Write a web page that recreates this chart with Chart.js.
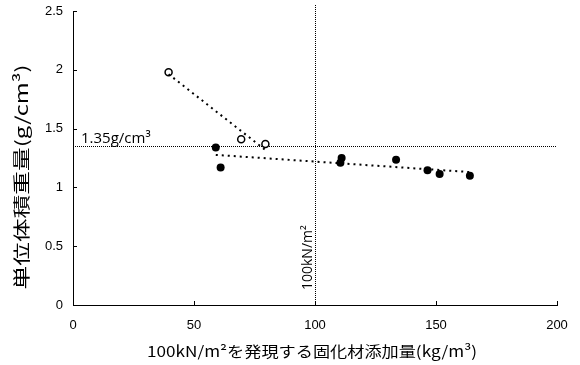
<!DOCTYPE html>
<html>
<head>
<meta charset="utf-8">
<script src="https://cdn.jsdelivr.net/npm/chart.js@4"></script>
<style>
  html, body { margin: 0; padding: 0; background: #fff; }
  #wrap { width: 580px; height: 365px; }
</style>
</head>
<body>
<div id="wrap"><canvas id="c"></canvas></div>
<script>
// filled markers
const filledX = [59, 61, 110.5, 111, 133.5, 146.5, 151.5, 164];
const filledY = [1.34, 1.17, 1.21, 1.25, 1.235, 1.145, 1.115, 1.10];
// open markers
const hollowX = [39.5, 69.5, 79.5];
const hollowY = [1.98, 1.41, 1.37];

const xTickValues = [0, 50, 100, 150, 200];
const yTickValues = [0, 0.5, 1, 1.5, 2, 2.5];

const refY = 1.35;
const refX = 100;
const refYLabel = "1.35g/cm³";
const refXLabel = "100kN/m²";
const xTitle = "100kN/m²を発現する固化材添加量(kg/m³)";
const yTitle = "単位体積重量(g/cm³)";

function pts(xs, ys) {
  return xs.map((x, i) => ({ x, y: ys[i] }));
}

// least-squares trend line over the range of the data
function trend(xs, ys) {
  const n = xs.length;
  const mx = xs.reduce((a, b) => a + b, 0) / n;
  const my = ys.reduce((a, b) => a + b, 0) / n;
  let sxy = 0, sxx = 0;
  xs.forEach((x, i) => { sxy += (x - mx) * (ys[i] - my); sxx += (x - mx) * (x - mx); });
  const k = sxy / sxx;
  const lo = Math.min(...xs), hi = Math.max(...xs);
  return [{ x: lo, y: my + k * (lo - mx) }, { x: hi, y: my + k * (hi - mx) }];
}

function stretchedText(ctx, text, font, cx, cy, width, rot) {
  ctx.save();
  ctx.font = font;
  const w = ctx.measureText(text).width;
  ctx.translate(cx, cy);
  if (rot) ctx.rotate(rot);
  ctx.scale(width / w, 1);
  ctx.textAlign = "center";
  ctx.textBaseline = "middle";
  ctx.fillStyle = "#000";
  ctx.fillText(text, 0, 0);
  ctx.restore();
}

const extras = {
  id: "extras",
  beforeDatasetsDraw(chart) {
    const { ctx, chartArea: a, scales: { x, y } } = chart;
    ctx.save();
    ctx.strokeStyle = "#000";
    ctx.lineWidth = 1;
    ctx.setLineDash([1, 1]);
    const py = Math.round(y.getPixelForValue(refY)) + 0.5;
    ctx.beginPath(); ctx.moveTo(a.left, py); ctx.lineTo(a.right, py); ctx.stroke();
    const px = Math.round(x.getPixelForValue(refX)) + 0.5;
    ctx.beginPath(); ctx.moveTo(px, a.top - 6); ctx.lineTo(px, a.bottom); ctx.stroke();
    ctx.setLineDash([]);

    ctx.fillStyle = "#000";
    ctx.font = '15px "Open Sans"';
    ctx.textAlign = "left";
    ctx.textBaseline = "alphabetic";
    ctx.fillText(refYLabel, a.left + 8, py - 4);

    ctx.save();
    ctx.translate(px - 4, a.bottom - 15);
    ctx.rotate(-Math.PI / 2);
    ctx.font = '14px "Open Sans"';
    ctx.fillText(refXLabel, 0, 0);
    ctx.restore();

    // short inward tick marks
    ctx.beginPath();
    yTickValues.forEach(v => {
      const t = Math.round(y.getPixelForValue(v)) + 0.5;
      ctx.moveTo(a.left, t); ctx.lineTo(a.left + 4, t);
    });
    xTickValues.forEach(v => {
      const t = Math.round(x.getPixelForValue(v)) + 0.5;
      ctx.moveTo(t, a.bottom); ctx.lineTo(t, a.bottom - 4);
    });
    ctx.stroke();
    ctx.restore();
  },
  afterDraw(chart) {
    const { ctx, chartArea: a } = chart;
    stretchedText(ctx, xTitle, '15px "Noto Sans CJK JP"', (a.left + a.right) / 2 - 3, 351, 330, 0);
    stretchedText(ctx, yTitle, '17px "Noto Sans CJK JP"', 22, 177, 225, -Math.PI / 2);
  }
};

new Chart(document.getElementById("c"), {
  type: "scatter",
  data: {
    datasets: [
      {
        label: "trend open",
        data: trend(hollowX, hollowY),
        showLine: true,
        pointRadius: 0,
        borderColor: "#000",
        borderWidth: 2,
        borderDash: [2, 4]
      },
      {
        label: "trend filled",
        data: trend(filledX, filledY),
        showLine: true,
        pointRadius: 0,
        borderColor: "#000",
        borderWidth: 2,
        borderDash: [2, 4]
      },
      {
        label: "open",
        data: pts(hollowX, hollowY),
        pointRadius: 3.5,
        pointBorderWidth: 1.5,
        borderColor: "#000",
        backgroundColor: "#fff"
      },
      {
        label: "filled",
        data: pts(filledX, filledY),
        pointRadius: 4,
        pointBorderWidth: 0,
        borderColor: "#000",
        backgroundColor: "#000"
      }
    ]
  },
  options: {
    responsive: true,
    maintainAspectRatio: false,
    animation: false,
    layout: { padding: { left: 0, right: 23, top: 11, bottom: 0 } },
    plugins: { legend: { display: false }, tooltip: { enabled: false } },
    scales: {
      x: {
        type: "linear",
        min: 0,
        max: 200,
        afterBuildTicks: s => { s.ticks = xTickValues.map(v => ({ value: v })); },
        afterFit: s => { s.height = 60; },
        grid: { display: false, drawTicks: true, tickLength: 13 },
        border: { display: true, color: "#000", width: 1 },
        ticks: { padding: 0, color: "#000", font: { family: "'Liberation Sans', Arial, sans-serif", size: 13 }, callback: v => String(v) }
      },
      y: {
        type: "linear",
        min: 0,
        max: 2.5,
        afterBuildTicks: s => { s.ticks = yTickValues.map(v => ({ value: v })); },
        afterFit: s => { s.width = 73; },
        grid: { display: false, drawTicks: true, tickLength: 10 },
        border: { display: true, color: "#000", width: 1 },
        ticks: { padding: 0, color: "#000", font: { family: "'Liberation Sans', Arial, sans-serif", size: 13 }, callback: v => String(v) }
      }
    }
  },
  plugins: [extras]
});
</script>
</body>
</html>
